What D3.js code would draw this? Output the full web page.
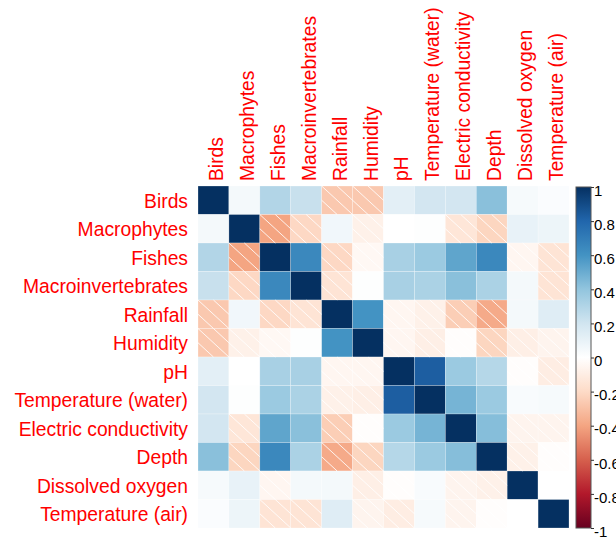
<!DOCTYPE html>
<html>
<head>
<meta charset="utf-8">
<script src="https://cdn.jsdelivr.net/npm/d3@7"></script>
<style>
  html, body { margin: 0; padding: 0; background: #fff; }
  svg { display: block; }
  text { font-family: "Liberation Sans", Arial, sans-serif; }
</style>
</head>
<body>
<svg id="chart" width="616" height="537"></svg>
<script>
// ---- data ----
const variables = ["Birds", "Macrophytes", "Fishes", "Macroinvertebrates", "Rainfall", "Humidity",
  "pH", "Temperature (water)", "Electric conductivity", "Depth", "Dissolved oxygen", "Temperature (air)"];

const rowBirds       = [1, 0.05, 0.30, 0.23, -0.27, -0.27, 0.12, 0.19, 0.19, 0.42, 0.04, 0.02];
const rowMacrophytes = [0.05, 1, -0.40, -0.21, 0.06, -0.08, 0.00, 0.01, -0.14, -0.22, 0.10, 0.08];
const rowFishes      = [0.30, -0.40, 1, 0.65, -0.21, -0.04, 0.33, 0.37, 0.53, 0.65, -0.05, -0.15];
const rowMacroinv    = [0.23, -0.21, 0.65, 1, -0.15, 0.01, 0.33, 0.32, 0.42, 0.32, 0.05, -0.15];
const rowRainfall    = [-0.27, 0.06, -0.21, -0.15, 1, 0.60, -0.05, -0.08, -0.25, -0.38, 0.05, 0.14];
const rowHumidity    = [-0.27, -0.08, -0.04, 0.01, 0.60, 1, -0.05, -0.09, -0.01, -0.22, -0.09, -0.06];
const rowPH          = [0.12, 0.00, 0.33, 0.33, -0.05, -0.05, 1, 0.83, 0.37, 0.29, -0.01, -0.10];
const rowTempWater   = [0.19, 0.01, 0.37, 0.32, -0.08, -0.09, 0.83, 1, 0.47, 0.37, 0.03, 0.04];
const rowEC          = [0.19, -0.14, 0.53, 0.42, -0.25, -0.01, 0.37, 0.47, 1, 0.43, -0.06, -0.06];
const rowDepth       = [0.42, -0.22, 0.65, 0.32, -0.38, -0.22, 0.29, 0.37, 0.43, 1, -0.08, -0.01];
const rowDO          = [0.04, 0.10, -0.05, 0.05, 0.05, -0.09, -0.01, 0.03, -0.06, -0.08, 1, 0.00];
const rowTempAir     = [0.02, 0.08, -0.15, -0.15, 0.14, -0.06, -0.10, 0.04, -0.06, -0.01, 0.00, 1];

const matrixRows = [rowBirds, rowMacrophytes, rowFishes, rowMacroinv, rowRainfall, rowHumidity,
  rowPH, rowTempWater, rowEC, rowDepth, rowDO, rowTempAir];

const legendTickValues = [1, 0.8, 0.6, 0.4, 0.2, 0, -0.2, -0.4, -0.6, -0.8, -1];
const legendTickLabels = ["1", "0.8", "0.6", "0.4", "0.2", "0", "-0.2", "-0.4", "-0.6", "-0.8", "-1"];

const paletteStops = [-1, -0.8, -0.6, -0.4, -0.2, 0, 0.2, 0.4, 0.6, 0.8, 1];
const paletteColors = ["#67001F", "#B2182B", "#D6604D", "#F4A582", "#FDDBC7", "#FFFFFF",
  "#D1E5F0", "#92C5DE", "#4393C3", "#2166AC", "#053061"];

// ---- build ----
const cells = [];
matrixRows.forEach((row, i) => row.forEach((v, j) => cells.push({ r: variables[i], c: variables[j], v })));

const svg = d3.select("#chart");
const x = d3.scaleBand().domain(variables).range([198, 569]);
const y = d3.scaleBand().domain(variables).range([186, 528]);
const color = d3.scaleLinear().domain(paletteStops).range(paletteColors).interpolate(d3.interpolateRgb);

// cells
svg.append("g").selectAll("rect").data(cells).join("rect")
  .attr("x", d => x(d.c)).attr("y", d => y(d.r))
  .attr("width", x.bandwidth()).attr("height", y.bandwidth())
  .attr("fill", d => color(d.v))
  .attr("stroke", "#fff").attr("stroke-width", 0.5).attr("stroke-opacity", 0.5);

// shade lines on negative cells
const offsets = [-0.5, 0, 0.5];
const segs = [];
cells.filter(d => d.v < 0).forEach(d => {
  const x0 = x(d.c), y0 = y(d.r), w = x.bandwidth(), h = y.bandwidth();
  offsets.forEach(o => {
    const u1 = Math.max(0, o), v1 = u1 - o;
    const v2 = Math.min(1, 1 - o), u2 = v2 + o;
    segs.push({ x1: x0 + u1 * w, y1: y0 + v1 * h, x2: x0 + u2 * w, y2: y0 + v2 * h });
  });
});
svg.append("g").selectAll("line").data(segs).join("line")
  .attr("x1", d => d.x1).attr("y1", d => d.y1).attr("x2", d => d.x2).attr("y2", d => d.y2)
  .attr("stroke", "#fff").attr("stroke-width", 1).attr("stroke-opacity", 0.85);

// row labels
svg.append("g").selectAll("text").data(variables).join("text")
  .attr("x", 188).attr("y", d => y(d) + y.bandwidth() / 2 + 7.5)
  .attr("text-anchor", "end").attr("font-size", 19.3).attr("fill", "#FF0000")
  .text(d => d);

// column labels
svg.append("g").selectAll("text").data(variables).join("text")
  .attr("transform", d => `translate(${x(d) + x.bandwidth() / 2 + 9.5},181) rotate(-90)`)
  .attr("text-anchor", "start").attr("font-size", 19.3).attr("fill", "#FF0000")
  .text(d => d);

// color legend
const ly = d3.scaleLinear().domain([-1, 1]).range([528, 187]);
const defs = svg.append("defs");
const grad = defs.append("linearGradient").attr("id", "cbar")
  .attr("x1", 0).attr("y1", 1).attr("x2", 0).attr("y2", 0);
paletteStops.forEach((s, i) => grad.append("stop")
  .attr("offset", (s + 1) / 2).attr("stop-color", paletteColors[i]));
svg.append("rect").attr("x", 576).attr("y", ly(1)).attr("width", 15).attr("height", ly(-1) - ly(1))
  .attr("fill", "url(#cbar)").attr("stroke", "#555").attr("stroke-width", 1);

const axis = d3.axisRight(ly).tickValues(legendTickValues)
  .tickFormat((d, i) => legendTickLabels[i]).tickSize(3).tickPadding(0);
const ag = svg.append("g").attr("transform", "translate(591,0)").call(axis);
ag.select(".domain").remove();
ag.selectAll(".tick line").attr("stroke", "#333");
ag.selectAll(".tick text").attr("font-size", 15).attr("fill", "#000")
  .attr("font-family", "Liberation Sans, Arial, sans-serif").attr("dy", "0.55em");
</script>
</body>
</html>
